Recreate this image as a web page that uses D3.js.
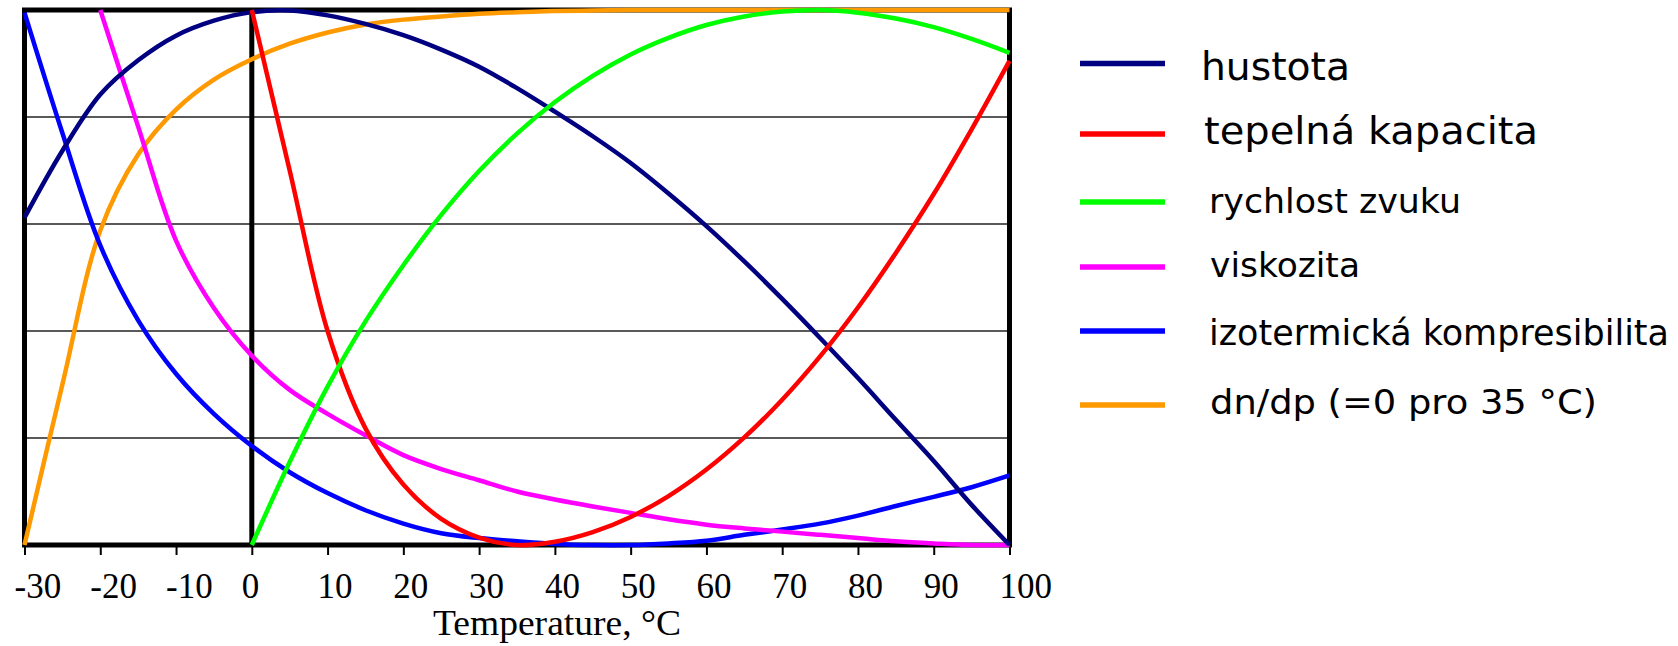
<!DOCTYPE html>
<html>
<head>
<meta charset="utf-8">
<script src="https://cdn.jsdelivr.net/npm/d3@7"></script>
<style>
  html, body { margin: 0; padding: 0; background: #fff; }
  svg { display: block; }
</style>
</head>
<body>
<svg id="chart" width="1678" height="646"></svg>
<script>
// ---- data (normalised values, 0 = bottom, 1 = top) ----
const temperatures = [-30, -25, -20, -15, -10, -5, 0, 5, 10, 15, 20, 25, 30, 35, 40, 45, 50, 55, 60, 65, 70, 75, 80, 85, 90, 95, 100];
const hustota = [0.612, 0.737, 0.842, 0.906, 0.952, 0.980, 0.996, 0.999, 0.990, 0.974, 0.953, 0.926, 0.894, 0.854, 0.810, 0.764, 0.714, 0.657, 0.596, 0.530, 0.460, 0.387, 0.312, 0.234, 0.157, 0.075, 0.0];
const tepelnaKapacita = [null, null, null, null, null, null, 1.0, 0.70, 0.40, 0.218, 0.113, 0.049, 0.014, 0.0, 0.006, 0.024, 0.0525, 0.0915, 0.141, 0.201, 0.2715, 0.3525, 0.444, 0.546, 0.656, 0.777, 0.905];
const rychlostZvuku = [null, null, null, null, null, null, 0.0, 0.155, 0.296, 0.418, 0.523, 0.617, 0.699, 0.769, 0.828, 0.877, 0.917, 0.948, 0.972, 0.988, 0.997, 1.0, 0.995, 0.984, 0.968, 0.946, 0.92];
const viskozita = [null, null, 1.0, 0.782, 0.569, 0.443, 0.354, 0.29, 0.245, 0.205, 0.168, 0.142, 0.121, 0.10, 0.085, 0.072, 0.06, 0.048, 0.038, 0.031, 0.025, 0.019, 0.013, 0.007, 0.003, 0.0, 0.0];
const kompresibilita = [0.995, 0.77, 0.56, 0.42, 0.32, 0.245, 0.185, 0.136, 0.097, 0.065, 0.04, 0.022, 0.013, 0.007, 0.002, 0.0, 0.0, 0.003, 0.008, 0.019, 0.029, 0.04, 0.055, 0.073, 0.09, 0.108, 0.13];
const dnDp = [0.0, 0.30, 0.588, 0.73, 0.814, 0.87, 0.908, 0.937, 0.958, 0.973, 0.982, 0.988, 0.993, 0.996, 0.998, 0.999, 1.0, 1.0, 1.0, 1.0, 1.0, 1.0, 1.0, 1.0, 1.0, 1.0, 1.0];
const xTickLabels = [-30, -20, -10, 0, 10, 20, 30, 40, 50, 60, 70, 80, 90, 100];
const gridValues = [0.2, 0.4, 0.6, 0.8];
const seriesNames = ["hustota", "tepelná kapacita", "rychlost zvuku", "viskozita", "izotermická kompresibilita", "dn/dp (=0 pro 35 °C)"];
const xTitle = "Temperature, °C";

// ---- styling / layout ----
const seriesValues = [hustota, tepelnaKapacita, rychlostZvuku, viskozita, kompresibilita, dnDp];
const seriesColors = ["#000080", "#ff0000", "#00ff00", "#ff00ff", "#0000ff", "#ff9900"];
const drawOrder = [5, 4, 3, 0, 1, 2];
const legendLineY = [63.5, 134, 202, 267, 331, 405];
const legendTextY = [79.5, 143.5, 213, 277, 345, 413.5];
const legendTextX = [1201, 1204, 1209, 1210, 1209, 1210];
const legendFont = [39, 37, 34, 33, 35, 33];
const legendWidth = [149, 334, 252, 150, 460, 387];

const svg = d3.select("#chart");
const x = d3.scaleLinear().domain([-30, 100]).range([24.5, 1009.5]);
const y = d3.scaleLinear().domain([0, 1]).range([545, 10]);

// gridlines
svg.append("g").selectAll("line").data(gridValues).join("line")
  .attr("x1", x(-30)).attr("x2", x(100))
  .attr("y1", d => y(d)).attr("y2", d => y(d))
  .attr("stroke", "#222").attr("stroke-width", 1.6);

// x axis with ticks
const axis = svg.append("g")
  .attr("transform", `translate(0,${y(0)})`)
  .call(d3.axisBottom(x).tickValues(xTickLabels).tickSize(10).tickSizeOuter(0).tickFormat(d => String(d)));
axis.select(".domain").remove();
axis.selectAll(".tick line").attr("stroke", "#000").attr("stroke-width", 2);
axis.selectAll(".tick text")
  .attr("font-family", "'Liberation Serif', 'Times New Roman', serif")
  .attr("font-size", 35).attr("fill", "#000")
  .attr("text-anchor", "start")
  .attr("dy", null)
  .attr("y", 53)
  .attr("x", -10.5);

// frame
const frame = svg.append("g").attr("stroke", "#000").attr("stroke-width", 5).attr("fill", "none");
frame.append("rect").attr("x", x(-30)).attr("y", y(1)).attr("width", x(100) - x(-30)).attr("height", y(0) - y(1));
frame.append("line").attr("x1", x(0)).attr("x2", x(0)).attr("y1", y(1)).attr("y2", y(0));

// curves
const line = d3.line()
  .defined(d => d.v !== null)
  .x(d => x(d.t)).y(d => y(d.v))
  .curve(d3.curveCatmullRom.alpha(0.5));
const curves = svg.append("g");
drawOrder.forEach(i => {
  const pts = temperatures.map((t, k) => ({t: t, v: seriesValues[i][k]}));
  curves.append("path")
    .attr("d", line(pts))
    .attr("fill", "none")
    .attr("stroke", seriesColors[i])
    .attr("stroke-width", 4.5)
    .attr("stroke-linejoin", "round");
});

// axis title
svg.append("text")
  .attr("x", 433).attr("y", 635)
  .attr("font-family", "'Liberation Serif', 'Times New Roman', serif")
  .attr("font-size", 36)
  .attr("textLength", 248).attr("lengthAdjust", "spacingAndGlyphs")
  .text(xTitle);

// legend
const legend = svg.append("g");
seriesNames.forEach((name, i) => {
  legend.append("line")
    .attr("x1", 1080).attr("x2", 1165)
    .attr("y1", legendLineY[i]).attr("y2", legendLineY[i])
    .attr("stroke", seriesColors[i]).attr("stroke-width", 5.5);
  legend.append("text")
    .attr("x", legendTextX[i]).attr("y", legendTextY[i])
    .attr("font-family", "'DejaVu Sans', sans-serif")
    .attr("font-size", legendFont[i])
    .attr("textLength", legendWidth[i]).attr("lengthAdjust", "spacingAndGlyphs")
    .attr("fill", "#000")
    .text(name);
});
</script>
</body>
</html>
